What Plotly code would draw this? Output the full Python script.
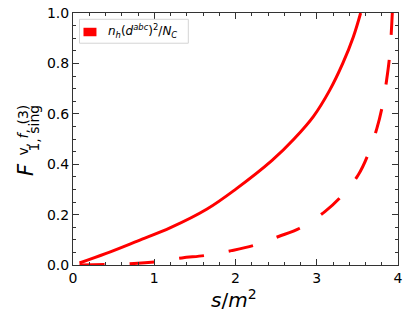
import plotly.graph_objects as go

# Data
s_solid = [0.08, 0.4, 0.8, 1.2, 1.65, 2.0, 2.45, 2.72, 2.96, 3.16, 3.32, 3.45, 3.54]
y_solid = [0.008, 0.045, 0.096, 0.148, 0.222, 0.30, 0.415, 0.50, 0.59, 0.694, 0.80, 0.905, 1.0]

s_dash = [0.08, 0.4, 0.75, 1.05, 1.34, 1.63, 1.95, 2.24, 2.53, 2.79, 3.1, 3.3, 3.51, 3.63, 3.74, 3.81, 3.86, 3.9, 3.93]
y_dash = [0.0, 0.002, 0.006, 0.014, 0.028, 0.038, 0.057, 0.079, 0.113, 0.146, 0.212, 0.272, 0.357, 0.437, 0.542, 0.635, 0.734, 0.84, 1.0]

legend_label = "<i>n</i><sub><i>h</i></sub>(<i>d</i><sup><i>abc</i></sup>)<sup>2</sup>/<i>N</i><sub><i>C</i></sub>"

x_ticks = [0, 1, 2, 3, 4]
y_ticks = [0.0, 0.2, 0.4, 0.6, 0.8, 1.0]
y_tick_labels = ["0.0", "0.2", "0.4", "0.6", "0.8", "1.0"]

RED = "#ff0000"
FONT = "DejaVu Sans"

fig = go.Figure()
fig.add_trace(go.Scatter(x=s_solid, y=y_solid, mode="lines", line=dict(color=RED, width=3, shape="spline"),
                         showlegend=False))
fig.add_trace(go.Scatter(x=s_dash, y=y_dash, mode="lines",
                         line=dict(color=RED, width=3, shape="spline", dash="25px,25px"),
                         showlegend=False))

W, H = 410, 319
L, R, T, B = 72.5, 12, 12.7, 53.7
pw = W - L - R
ph = H - T - B

def px_to_paper(px, py):
    return (px - L) / pw, (H - B - py) / ph

axis_common = dict(showgrid=False, zeroline=False, showline=True, linecolor="#333333", linewidth=1,
                   mirror="allticks", ticks="inside", ticklen=6, tickwidth=1, tickcolor="#333333",
                   automargin=False,
                   tickfont=dict(family=FONT, size=14, color="black"))

fig.update_layout(
    width=W, height=H,
    margin=dict(l=L, r=R, t=T, b=B, autoexpand=False),
    paper_bgcolor="white", plot_bgcolor="white",
    font=dict(family=FONT, color="black"),
    showlegend=False,
    xaxis=dict(range=[0, 4], tickvals=x_ticks, ticktext=[str(v) for v in x_ticks],
               minor=dict(dtick=0.2, ticks="inside", ticklen=3, tickcolor="#333333"),
               **axis_common),
    yaxis=dict(range=[0, 1], tickvals=y_ticks, ticktext=y_tick_labels,
               minor=dict(dtick=0.05, ticks="inside", ticklen=3, tickcolor="#333333"),
               **axis_common),
)

# legend box drawn manually (matplotlib-style)
x0, y0 = px_to_paper(79, 43)
x1, y1 = px_to_paper(188, 19)
fig.add_shape(type="rect", xref="paper", yref="paper", x0=x0, y0=y0, x1=x1, y1=y1,
              line=dict(color="#d5d5d5", width=1), fillcolor="rgba(255,255,255,0.8)", layer="above")
p0x, p0y = px_to_paper(83, 36)
p1x, p1y = px_to_paper(96, 27.5)
fig.add_shape(type="rect", xref="paper", yref="paper", x0=p0x, y0=p0y, x1=p1x, y1=p1y,
              line=dict(width=0), fillcolor=RED, layer="above")
tx, ty = px_to_paper(106, 31)
fig.add_annotation(text=legend_label, xref="paper", yref="paper", x=tx, y=ty,
                   xanchor="left", yanchor="middle", showarrow=False, font=dict(family=FONT, size=12))

# x-axis title
ax, ay = px_to_paper(234, 299)
fig.add_annotation(text="<i>s</i>/<i>m</i><sup>2</sup>", xref="paper", yref="paper", x=ax, y=ay,
                   xanchor="center", yanchor="middle", showarrow=False, font=dict(family=FONT, size=20))

# y-axis title (stacked super/subscripts)
fx, fy = px_to_paper(25.5, 170)
fig.add_annotation(text="<i>F</i>", xref="paper", yref="paper", x=fx, y=fy, textangle=-90,
                   xanchor="center", yanchor="middle", showarrow=False, font=dict(family=FONT, size=21))
sx, sy = px_to_paper(22, 130)
fig.add_annotation(text="v, <i>f</i>, (3)", xref="paper", yref="paper", x=sx, y=sy, textangle=-90,
                   xanchor="center", yanchor="middle", showarrow=False, font=dict(family=FONT, size=14))
bx, by = px_to_paper(33, 128)
fig.add_annotation(text="1, sing", xref="paper", yref="paper", x=bx, y=by, textangle=-90,
                   xanchor="center", yanchor="middle", showarrow=False, font=dict(family=FONT, size=14))

fig.write_html("out.html", config={"displayModeBar": False},
               post_script="document.body.style.margin='0';document.body.style.padding='0';"
                           "document.body.style.overflow='hidden';")
